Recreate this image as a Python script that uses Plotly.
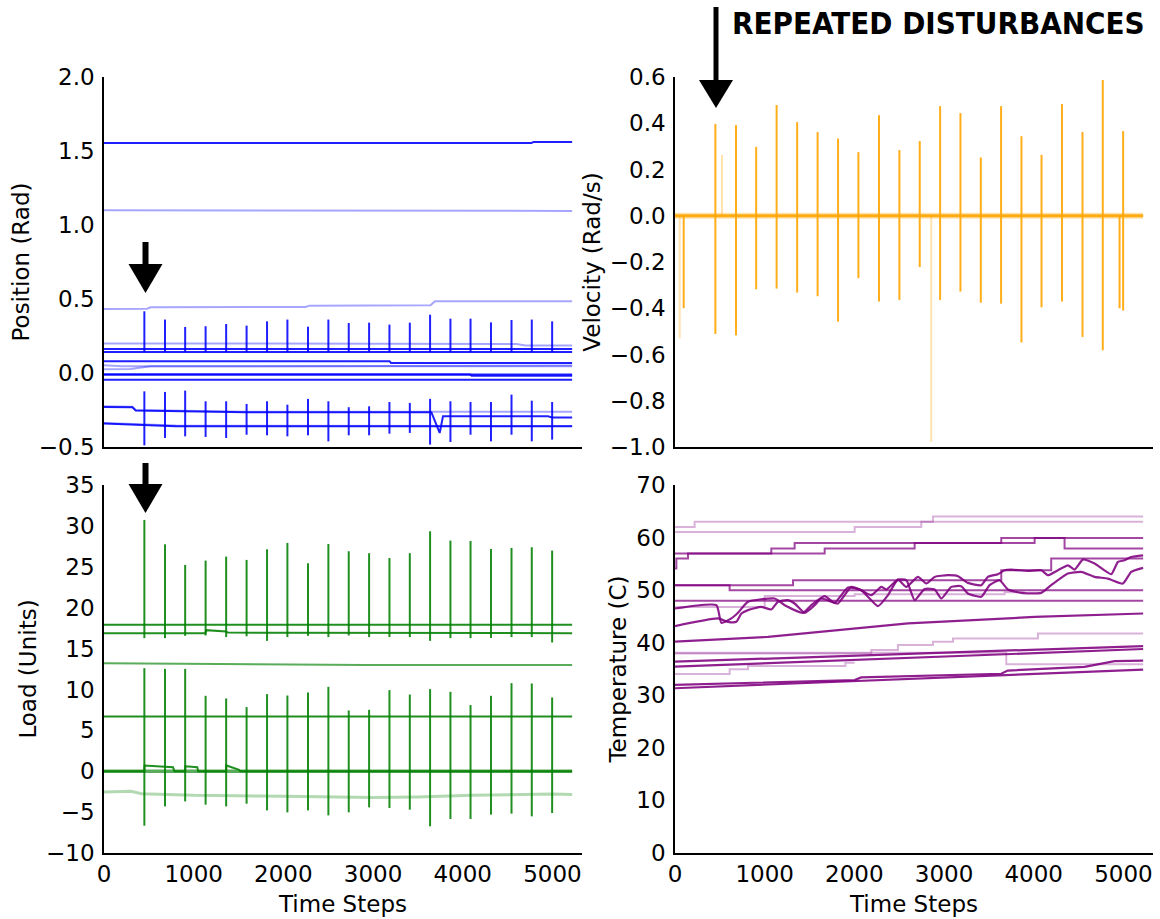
import plotly.graph_objects as go

W, H = 1160, 919
END = 5220  # last recorded time step

# ---------------- disturbance instants (shared by all channels) ----------------
DISTURB_T = [450, 680, 905, 1133, 1362, 1590, 1818, 2045, 2275, 2502, 2729,
             2956, 3183, 3410, 3636, 3863, 4087, 4315, 4544, 4770, 4997]

# ---------------- Position (Rad) ----------------
POS_A = [(0, 1.554), (4767, 1.554), (4790, 1.561), (END, 1.561)]
POS_B = [(0, 1.099), (3110, 1.099), (3130, 1.095), (END, 1.095)]
POS_C = [(0, 0.432), (480, 0.434), (520, 0.444), (2250, 0.446), (2290, 0.455), (3640, 0.458), (3690, 0.484), (END, 0.484)]
POS_D = [(0, 0.200), (4600, 0.196), (4700, 0.186), (END, 0.186)]
POS_E = [(0, 0.162), (END, 0.162)]
POS_F = [(0, 0.142), (END, 0.142)]
POS_G = [(0, 0.080), (3184, 0.080), (3200, 0.068), (END, 0.068)]
POS_H = [(0, 0.052), (200, 0.045), (END, 0.045)]
POS_I = [(0, 0.025), (300, 0.027), (520, 0.045), (END, 0.050)]
POS_J = [(0, -0.010), (END, -0.010)]
POS_K = [(0, -0.010), (4078, -0.010), (4100, -0.018), (END, -0.018)]
POS_L = [(0, -0.045), (END, -0.045)]
POS_M = [(0, -0.225), (317, -0.228), (354, -0.250), (1583, -0.262), (END, -0.262)]
POS_N = [(0, -0.230), (317, -0.232), (354, -0.254), (1583, -0.265), (3650, -0.265),
         (3743, -0.405), (3780, -0.293), (4950, -0.293), (5000, -0.300), (END, -0.300)]
POS_O = [(0, -0.338), (800, -0.355), (END, -0.358)]
POS_P = [(0, -0.342), (800, -0.360), (END, -0.360)]
POS_UP_BASE = 0.142
POS_UP_TOP = [0.417, 0.361, 0.311, 0.316, 0.331, 0.320, 0.349, 0.361, 0.313, 0.361, 0.338,
              0.340, 0.327, 0.340, 0.394, 0.367, 0.367, 0.342, 0.358, 0.361, 0.349]
POS_LO_TOP = [-0.124, -0.128, -0.119, -0.191, -0.191, -0.209, -0.191, -0.214, -0.175, -0.191, -0.231,
              -0.225, -0.196, -0.202, -0.175, -0.191, -0.196, -0.196, -0.146, -0.187, -0.196]
POS_LO_BOT = [-0.489, -0.439, -0.428, -0.432, -0.439, -0.417, -0.421, -0.428, -0.421, -0.462, -0.421,
              -0.421, -0.410, -0.405, -0.484, -0.466, -0.417, -0.462, -0.417, -0.462, -0.450]

# ---------------- Velocity (Rad/s) ----------------
VEL_BASE = [(0, 0.0), (END, 0.0)]
VEL_TOP = [0.397, 0.392, 0.298, 0.479, 0.405, 0.362, 0.334, 0.275, 0.435, 0.284, 0.323,
           0.474, 0.444, 0.252, 0.474, 0.344, 0.263, 0.483, 0.362, 0.587, 0.366]
VEL_BOT = [-0.511, -0.517, -0.318, -0.315, -0.332, -0.348, -0.458, -0.270, -0.371, -0.364, -0.222,
           -0.364, -0.328, -0.376, -0.380, -0.548, -0.396, -0.371, -0.524, -0.582, -0.410]
VEL_EXTRA_T = [97, 4957]
VEL_EXTRA_V = [-0.400, -0.400]
VEL_FAINT_T = [52, 524, 2857]
VEL_FAINT_V = [-0.530, 0.263, -0.978]

# ---------------- Load (Units) ----------------
LOAD_A = [(0, 17.9), (END, 17.9)]
LOAD_UP_BASE = [(0, 16.88), (1130, 16.88), (1140, 17.25), (1360, 17.1), (1380, 16.95), (END, 16.88)]
LOAD_B = [(0, 13.2), (1500, 13.1), (2900, 13.0), (END, 13.0)]
LOAD_C = [(0, 6.7), (END, 6.7)]
LOAD_LO_BASE = [(0, 0.0), (450, 0.0), (452, 0.7), (770, 0.5), (785, 0.0), (905, 0.0), (907, 0.6),
                (1040, 0.5), (1050, 0.0), (1362, 0.0), (1364, 0.7), (1500, 0.2), (1520, 0.0), (END, 0.0)]
LOAD_ZERO = [(0, 0.0), (END, 0.0)]
LOAD_D = [(0, -2.55), (300, -2.45), (420, -2.75), (1000, -2.95), (2000, -3.05), (3000, -3.2),
          (3500, -3.15), (4100, -2.95), (5000, -2.8), (END, -2.85)]
LOAD_UP_TOP = [30.73, 27.75, 25.23, 25.76, 26.25, 25.84, 27.14, 27.92, 25.43, 27.79, 26.90,
               26.66, 26.08, 26.66, 29.34, 28.20, 28.16, 27.18, 27.31, 27.39, 26.98]
LOAD_UP_BOT = [16.27, 16.27, 16.55, 16.6, 16.4, 16.5, 15.94, 16.4, 16.55, 16.4, 16.6,
               16.4, 16.4, 16.4, 15.94, 16.27, 16.27, 16.3, 16.4, 16.4, 15.74]
LOAD_LO_TOP = [12.6, 12.52, 12.52, 9.22, 8.90, 7.84, 9.43, 9.26, 9.63, 10.32, 7.43,
               7.51, 9.92, 9.38, 10.04, 9.71, 8.09, 9.22, 10.77, 10.73, 9.02]
LOAD_LO_BOT = [-6.66, -4.30, -3.69, -4.09, -4.30, -3.97, -4.79, -5.03, -4.79, -5.40, -5.03,
               -4.42, -4.50, -4.70, -6.74, -5.84, -5.84, -5.31, -5.19, -5.52, -5.11]

# ---------------- Temperature (C) ----------------
# stepped sensor readings
TEMP_S1 = [(0, 62.0), (219, 63.0), (2876, 64.0), (END, 64.0)]
TEMP_S2 = [(0, 61.06), (2003, 62.0), (2746, 63.0), (END, 63.0)]
TEMP_S3 = [(0, 54.1), (15, 56.0), (145, 56.95), (1074, 57.9), (1334, 58.97), (3638, 59.9), (END, 59.9)]
TEMP_S4 = [(0, 56.95), (1669, 57.9), (2672, 58.97), (4010, 59.9), (4344, 57.9), (END, 57.9)]
TEMP_S5 = [(0, 50.94), (1316, 51.89), (3638, 53.8), (4195, 56.0), (END, 56.0)]
TEMP_S6 = [(0, 50.94), (609, 49.99), (END, 49.99)]
TEMP_S7 = [(0, 47.97), (END, 47.97)]
TEMP_S8 = [(0, 46.8), (1000, 48.9), (2003, 49.2), (3675, 49.6), (3900, 49.6)]
TEMP_S9 = [(0, 37.97), (2189, 38.6), (2486, 39.55), (2876, 40.2), (3100, 40.8), (4047, 41.77), (END, 41.77)]
TEMP_S10 = [(0, 38.1), (3694, 35.9), (END, 35.9)]
TEMP_S11 = [(0, 34.05), (609, 34.94), (814, 35.57), (1900, 36.2), (2003, 36.2)]
# smoothly drifting readings
TEMP_R1 = [(0, 40.19), (1037, 41.1), (2598, 43.67), (4010, 44.9), (END, 45.56)]
TEMP_R2 = [(0, 36.39), (END, 39.37)]
TEMP_R3 = [(0, 35.44), (END, 38.8)]
TEMP_R4 = [(0, 31.97), (2003, 32.9), (2075, 33.4), (3638, 34.1), (3710, 34.7), (4567, 35.4),
           (4901, 36.5), (END, 36.6)]
TEMP_R5 = [(0, 31.34), (END, 34.9)]
TEMP_W1 = [(0, 46.51), (461, 47.14), (517, 43.79), (628, 44.62), (702, 45.69), (814, 47.78), (1111, 48.41),
           (1223, 47.14), (1427, 45.69), (1520, 47.14), (1669, 48.85), (1780, 47.59), (1929, 50.50),
           (2077, 49.99), (2263, 46.95), (2375, 49.04), (2486, 52.01), (2579, 50.62), (2709, 52.52),
           (2802, 51.26), (2895, 52.52), (3043, 52.84), (3155, 52.65), (3266, 51.38), (3415, 50.94),
           (3489, 52.52), (3601, 53.03), (3675, 53.79), (3750, 53.91), (3935, 53.66), (4084, 53.79),
           (4158, 52.84), (4270, 53.79), (4381, 54.73), (4456, 53.91), (4548, 55.81), (4679, 55.05),
           (4864, 53.03), (4939, 55.37), (5013, 55.68), (5087, 56.31), (END, 56.63)]
TEMP_W2 = [(0, 43.16), (479, 44.62), (591, 43.98), (684, 43.98), (740, 45.56), (814, 46.20), (962, 46.83),
           (1074, 46.32), (1148, 47.78), (1260, 48.09), (1334, 47.46), (1446, 45.69), (1557, 47.14),
           (1631, 48.41), (1743, 47.78), (1817, 47.46), (1966, 50.62), (2077, 49.99), (2189, 49.04),
           (2300, 50.62), (2356, 50.12), (2486, 52.01), (2579, 51.89), (2672, 48.09), (2783, 50.21),
           (2895, 50.12), (2969, 48.41), (3081, 50.62), (3192, 50.75), (3266, 49.36), (3415, 48.73),
           (3508, 50.94), (3619, 51.89), (3712, 50.12), (3861, 49.48), (4084, 49.48), (4195, 50.94),
           (4381, 53.15), (4530, 53.47), (4679, 52.52), (4827, 52.20), (4994, 51.26), (5087, 53.47),
           (END, 54.23)]

# ---------------- colours ----------------
BLUE, BLUE_L = "rgba(0,0,255,0.88)", "rgba(0,0,255,0.35)"
ORANGE, ORANGE_L = "rgba(255,165,0,0.9)", "rgba(255,165,0,0.32)"
GREEN, GREEN_M, GREEN_L = "rgba(0,128,0,0.88)", "rgba(0,128,0,0.65)", "rgba(0,128,0,0.3)"
PURPLE, PURPLE_M, PURPLE_L = "rgba(128,0,128,0.88)", "rgba(128,0,128,0.72)", "rgba(128,0,128,0.3)"

fig = go.Figure()


def line(pts, ax, color, width=2.0, shape="linear", smoothing=None):
    spec = dict(color=color, width=width, shape=shape)
    if smoothing is not None:
        spec["smoothing"] = smoothing
    fig.add_trace(go.Scatter(
        x=[p[0] for p in pts], y=[p[1] for p in pts], mode="lines", line=spec,
        xaxis="x" + ax, yaxis="y" + ax, hoverinfo="skip", showlegend=False))


def spikes(times, lows, highs, ax, color, width=2.0):
    xs, ys = [], []
    for t, lo, hi in zip(times, lows, highs):
        xs += [t, t, None]
        ys += [lo, hi, None]
    fig.add_trace(go.Scatter(
        x=xs, y=ys, mode="lines", line=dict(color=color, width=width),
        xaxis="x" + ax, yaxis="y" + ax, hoverinfo="skip", showlegend=False))


# Position panel
for pts in (POS_B, POS_C, POS_D, POS_H, POS_I, POS_M, POS_O):
    line(pts, "", BLUE_L, 2.0)
for pts in (POS_A, POS_E, POS_F, POS_G, POS_J, POS_K, POS_L, POS_N, POS_P):
    line(pts, "", BLUE, 2.0)
spikes(DISTURB_T, [POS_UP_BASE] * len(DISTURB_T), POS_UP_TOP, "", BLUE)
spikes(DISTURB_T, POS_LO_BOT, POS_LO_TOP, "", BLUE)

# Velocity panel
line(VEL_BASE, "2", ORANGE_L, 6.0)
line(VEL_BASE, "2", ORANGE, 3.0)
spikes(DISTURB_T, VEL_BOT, VEL_TOP, "2", ORANGE)
spikes(VEL_EXTRA_T, [0.0] * len(VEL_EXTRA_T), VEL_EXTRA_V, "2", ORANGE)
spikes(VEL_FAINT_T, [0.0] * len(VEL_FAINT_T), VEL_FAINT_V, "2", ORANGE_L)

# Load panel
line(LOAD_D, "3", GREEN_L, 3.0)
line(LOAD_ZERO, "3", GREEN_M, 3.5)
line(LOAD_B, "3", GREEN_M, 2.0)
line(LOAD_A, "3", GREEN, 2.0)
line(LOAD_C, "3", GREEN, 2.0)
line(LOAD_UP_BASE, "3", GREEN, 2.0)
line(LOAD_LO_BASE, "3", GREEN, 2.0)
spikes(DISTURB_T, LOAD_UP_BOT, LOAD_UP_TOP, "3", GREEN)
spikes(DISTURB_T, LOAD_LO_BOT, LOAD_LO_TOP, "3", GREEN)

# Temperature panel
for pts in (TEMP_S1, TEMP_S2, TEMP_S8, TEMP_S9, TEMP_S10, TEMP_S11):
    line(pts, "4", PURPLE_L, 2.0, "hv")
for pts in (TEMP_S3, TEMP_S4, TEMP_S5, TEMP_S6, TEMP_S7):
    line(pts, "4", PURPLE_M, 2.0, "hv")
for pts in (TEMP_R1, TEMP_R2, TEMP_R3, TEMP_R4, TEMP_R5):
    line(pts, "4", PURPLE, 2.2)
for pts in (TEMP_W1, TEMP_W2):
    line(pts, "4", PURPLE, 2.2, "spline", 0.5)

# ---------------- layout ----------------
TICK_FONT = dict(family="DejaVu Sans", size=23, color="black")
TITLE_FONT = dict(family="DejaVu Sans", size=23, color="black")
XL = [104 / W, 582 / W]
XR = [675 / W, 1153 / W]
YT = [1 - 447 / H, 1 - 77 / H]
YB = [1 - 853 / H, 1 - 485 / H]


def xaxis(domain, anchor, labels):
    return dict(domain=domain, anchor=anchor, range=[0, 5330], tickvals=[0, 1000, 2000, 3000, 4000, 5000],
                showticklabels=labels, showline=True, linecolor="black", linewidth=1.6,
                showgrid=False, zeroline=False, ticks="", tickfont=TICK_FONT, automargin=False,
                title=dict(text="Time Steps" if labels else "", font=TITLE_FONT, standoff=9))


def yaxis(domain, anchor, rng, dtick, fmt, title):
    return dict(domain=domain, anchor=anchor, range=rng, dtick=dtick, tick0=rng[0], tickformat=fmt,
                showline=True, linecolor="black", linewidth=1.6, showgrid=False, zeroline=False,
                ticks="", ticklabelstandoff=3, tickfont=TICK_FONT, automargin=False,
                title=dict(text=title, font=TITLE_FONT, standoff=3))


fig.update_layout(
    width=W, height=H, margin=dict(l=0, r=0, t=0, b=0),
    paper_bgcolor="white", plot_bgcolor="white", template=None, showlegend=False,
    xaxis=xaxis(XL, "y", False), yaxis=yaxis(YT, "x", [-0.5, 2.0], 0.5, ".1f", "Position (Rad)"),
    xaxis2=xaxis(XR, "y2", False), yaxis2=yaxis(YT, "x2", [-1.0, 0.6], 0.2, ".1f", "Velocity (Rad/s)"),
    xaxis3=xaxis(XL, "y3", True), yaxis3=yaxis(YB, "x3", [-10, 35], 5, "d", "Load (Units)"),
    xaxis4=xaxis(XR, "y4", True), yaxis4=yaxis(YB, "x4", [0, 70], 10, "d", "Temperature (C)"),
)


def px(x):
    return x / W


def py(y):
    return 1 - y / H


def arrow(xc, y0, y1, head_top, half_w, shaft_w):
    shapes = [
        dict(type="rect", xref="paper", yref="paper", x0=px(xc - shaft_w / 2), x1=px(xc + shaft_w / 2),
             y0=py(head_top + 1), y1=py(y0), fillcolor="black", line=dict(width=0)),
        dict(type="path", xref="paper", yref="paper",
             path=f"M {px(xc - half_w)} {py(head_top)} L {px(xc + half_w)} {py(head_top)} L {px(xc)} {py(y1)} Z",
             fillcolor="black", line=dict(width=0)),
    ]
    for s in shapes:
        fig.add_shape(**s)


arrow(145.5, 242, 293, 264, 17, 6)
arrow(145.5, 463, 513, 484, 17, 6)
arrow(716, 7, 108, 80, 17, 5)

fig.add_annotation(xref="paper", yref="paper", x=px(938), y=py(23), xanchor="center", yanchor="middle",
                   text="<b>REPEATED DISTURBANCES</b>", showarrow=False,
                   font=dict(family="DejaVu Sans Condensed, Liberation Sans Narrow, DejaVu Sans, sans-serif",
                             size=31, color="black"))

fig.write_html("out.html")
